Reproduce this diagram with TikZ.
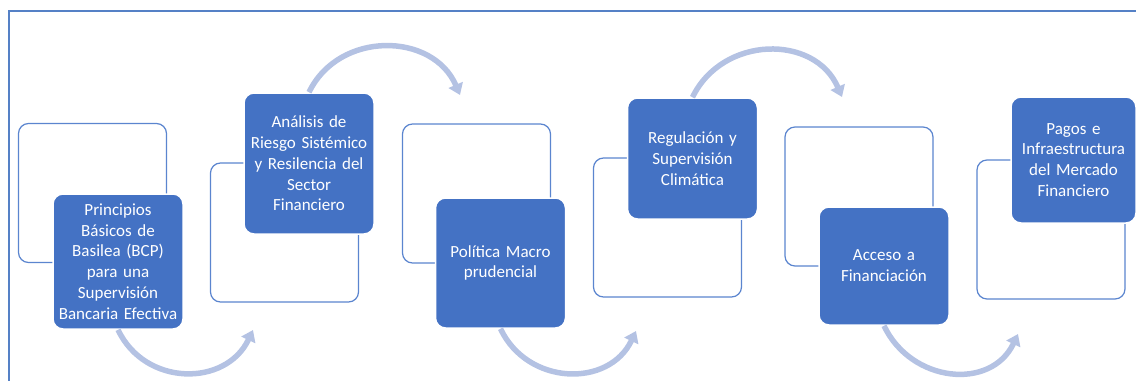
\documentclass[tikz,border=0pt]{standalone}
\usepackage{fontspec}
\setmainfont{Carlito}
\usepackage{tikz}
\usetikzlibrary{arrows.meta}
\definecolor{boxblue}{HTML}{4472C4}
\definecolor{edgeblue}{HTML}{5B85CF}
\definecolor{arcblue}{HTML}{B4C2E3}
\definecolor{frameblue}{HTML}{5581C6}

\begin{document}
\begin{tikzpicture}[
			x=1pt, y=-1pt,
			backbox/.style={rectangle,draw=edgeblue,line width=1.2pt,fill=white,rounded corners=10pt,
				minimum width=148pt,minimum height=139pt},
			stagebox/.style={rectangle,draw=white,line width=1.5pt,fill=boxblue,rounded corners=10pt,
				text=white,align=center,text width=128pt,inner xsep=1pt,
				font=\fontsize{17}{20.8}\selectfont},
			loop/.style={draw=arcblue,line width=5.5pt,-{Triangle[width=15pt,length=11pt]}},
			]
			\useasboundingbox (0,0) rectangle (1136,381);
			\draw[frameblue,line width=2pt] (1136,11) -- (9,11) -- (9,381);
			\node [backbox] (bcpback) at (92.5,193) {};
			\node [backbox] (riesgoback) at (284.5,232.5) {};
			\node [backbox] (macroback) at (476.5,193.5) {};
			\node [backbox] (climaback) at (667.5,227.5) {};
			\node [backbox] (accesoback) at (859,196.5) {};
			\node [backbox] (pagosback) at (1051,229.5) {};
			\node [stagebox,minimum height=135pt] (bcp) at (118,261.5) {Principios\\ Básicos de\\
				Basilea (BCP)\\ para una\\ Supervisión\\ Bancaria Efectiva};
			\node [stagebox,minimum height=141pt] (riesgo) at (309,163.5) {Análisis de\\ Riesgo Sistémico\\
				y Resilencia del\\ Sector\\ Financiero};
			\node [stagebox,minimum height=130pt] (macro) at (500.5,263) {Política Macro\\ prudencial};
			\node [stagebox,minimum height=121pt] (clima) at (692.5,158.5) {Regulación y\\ Supervisión\\ Climática};
			\node [stagebox,minimum height=118pt] (acceso) at (884,266) {Acceso a\\ Financiación};
			\node [stagebox,minimum height=126pt,text width=123pt] (pagos) at (1073.5,160) {Pagos e\\
				Infraestructura\\ del Mercado\\ Financiero};
			\coordinate (tipa) at (253,330);
			\coordinate (tipb) at (460,95);
			\coordinate (tipc) at (636,331);
			\coordinate (tipd) at (842,97);
			\coordinate (tipe) at (1018,334);
			\draw[loop] (bcp.south) .. controls +(27,57) and +(-27,57) .. (tipa);
			\draw[loop] (riesgo.north) .. controls +(30,-62) and +(-27,-63) .. (tipb);
			\draw[loop] (macro.south) .. controls +(27,57) and +(-27,57) .. (tipc);
			\draw[loop] (clima.north) .. controls +(30,-62) and +(-27,-63) .. (tipd);
			\draw[loop] (acceso.south) .. controls +(27,57) and +(-27,57) .. (tipe);
		\end{tikzpicture}
\end{document}
